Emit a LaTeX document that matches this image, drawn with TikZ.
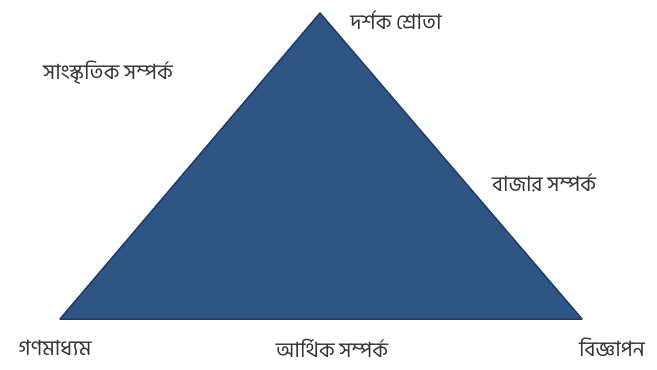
\documentclass[tikz,border=0pt]{standalone}
\usepackage{fontspec}
\newfontfamily\bnfont[Script=Bengali]{Hind Siliguri}
\definecolor{trifill}{RGB}{47,85,133}
\definecolor{triedge}{RGB}{30,60,100}
\tikzset{lbl/.style={font=\bnfont\fontsize{21}{25}\selectfont,text=black!80,inner sep=0pt}}

\begin{document}
\begin{tikzpicture}[x=1pt,y=-1pt]
  \useasboundingbox (0,0) rectangle (657,370);
  \coordinate (apex) at (320,13);
  \coordinate (bl) at (60,319);
  \coordinate (br) at (582,319);
  \fill[trifill,draw=triedge,line width=1.5pt,line join=round] (apex) -- (bl) -- (br) -- cycle;
  \node[lbl] (audience) at (396,20) {দর্শক শ্রোতা};
  \node[lbl] (cultural) at (108,73) {সাংস্কৃতিক সম্পর্ক};
  \node[lbl] (market) at (544,183) {বাজার সম্পর্ক};
  \node[lbl] (media) at (55,348) {গণমাধ্যম};
  \node[lbl] (finance) at (332,348) {আর্থিক সম্পর্ক};
  \node[lbl] (advert) at (612,347) {বিজ্ঞাপন};
\end{tikzpicture}
\end{document}
